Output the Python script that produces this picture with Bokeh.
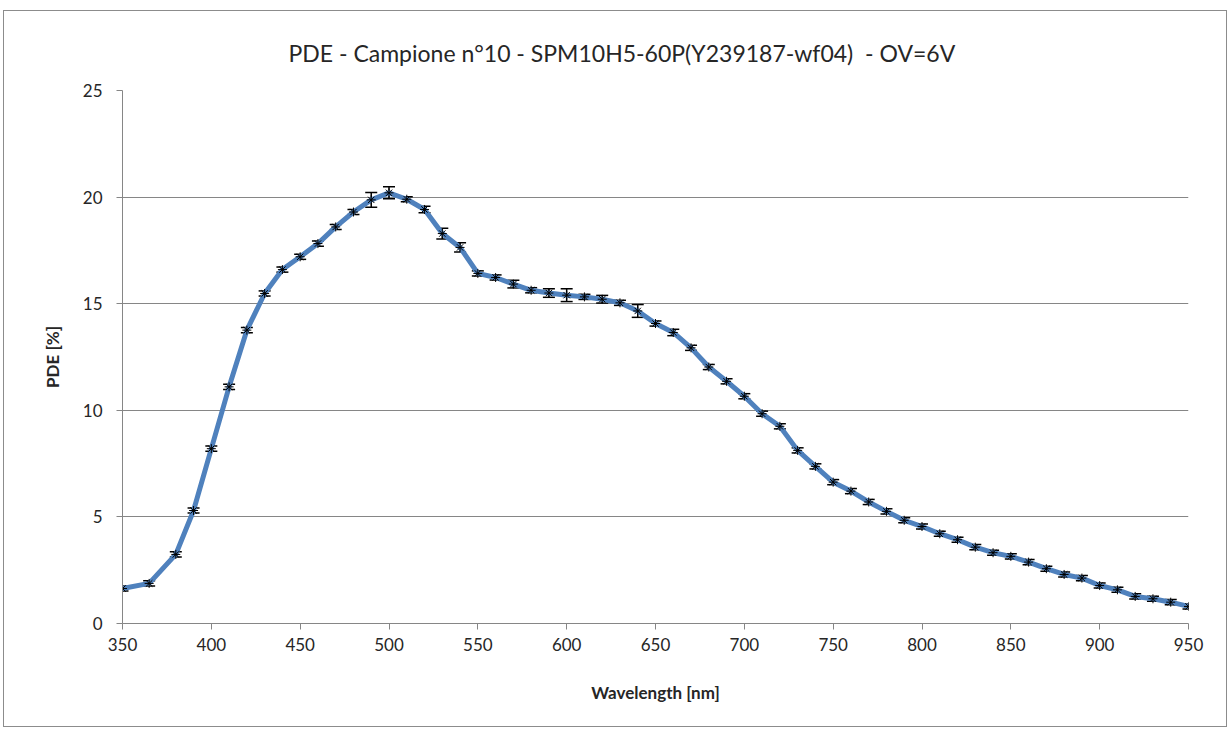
from bokeh.plotting import figure
from bokeh.models import Whisker, ColumnDataSource, FixedTicker, Range1d, Title
from bokeh.embed import file_html
from bokeh.resources import INLINE

wavelength = [350, 365, 380, 390, 400, 410, 420, 430, 440, 450, 460, 470, 480, 490,
              500, 510, 520, 530, 540, 550, 560, 570, 580, 590, 600, 610, 620, 630,
              640, 650, 660, 670, 680, 690, 700, 710, 720, 730, 740, 750, 760, 770,
              780, 790, 800, 810, 820, 830, 840, 850, 860, 870, 880, 890, 900, 910,
              920, 930, 940, 950]
pde = [1.64, 1.88, 3.24, 5.30, 8.20, 11.10, 13.76, 15.48, 16.60, 17.20, 17.82, 18.60,
       19.30, 19.87, 20.20, 19.90, 19.42, 18.29, 17.64, 16.42, 16.23, 15.92, 15.63,
       15.50, 15.40, 15.32, 15.21, 15.04, 14.66, 14.07, 13.65, 12.93, 12.03, 11.36,
       10.66, 9.84, 9.25, 8.12, 7.37, 6.63, 6.21, 5.70, 5.26, 4.84, 4.55, 4.21, 3.93,
       3.58, 3.32, 3.15, 2.88, 2.57, 2.30, 2.13, 1.78, 1.58, 1.27, 1.16, 1.00, 0.80]
pde_err = [0.12, 0.12, 0.12, 0.12, 0.12, 0.12, 0.12, 0.12, 0.12, 0.12, 0.12, 0.12,
           0.12, 0.35, 0.28, 0.12, 0.15, 0.25, 0.22, 0.12, 0.12, 0.18, 0.12,
           0.20, 0.30, 0.12, 0.18, 0.12, 0.30, 0.12, 0.15, 0.12, 0.12, 0.12,
           0.12, 0.12, 0.12, 0.12, 0.12, 0.12, 0.12, 0.12, 0.12, 0.12, 0.12, 0.12, 0.12,
           0.12, 0.12, 0.12, 0.12, 0.12, 0.12, 0.12, 0.12, 0.12, 0.12, 0.12, 0.12, 0.12]
x_ticks = [350, 400, 450, 500, 550, 600, 650, 700, 750, 800, 850, 900, 950]
y_ticks = [0, 5, 10, 15, 20, 25]

title_text = "PDE - Campione n\u00b010 - SPM10H5-60P(Y239187-wf04)\u00a0 - OV=6V"
FONT = "Lato"
GRID = "#868686"
TXT = "#262626"

src = ColumnDataSource(dict(
    x=wavelength, y=pde,
    upper=[v + e for v, e in zip(pde, pde_err)],
    lower=[v - e for v, e in zip(pde, pde_err)],
))

p = figure(width=1224, height=717, output_backend="svg", toolbar_location=None,
           x_range=Range1d(350, 950), y_range=Range1d(0, 25),
           min_border_left=118, min_border_right=40, min_border_top=79, min_border_bottom=105)
p.margin = (10, 0, 0, 3)
p.outline_line_color = None
p.background_fill_color = "white"
p.border_fill_color = "white"
p.styles = {"border": "1px solid #8c8c8c"}

t = Title(text=title_text, align="left", offset=166, text_font=FONT,
          text_font_size="23px", text_font_style="normal", text_color=TXT, standoff=48)
p.add_layout(t, "above")

p.line("x", "y", source=src, line_color="#4F81BD", line_width=5, line_join="round")
w = Whisker(source=src, base="x", upper="upper", lower="lower",
            line_color="black", line_width=1.5)
for head in (w.upper_head, w.lower_head):
    head.size = 12
    head.line_color = "black"
    head.line_width = 1.5
p.add_layout(w)
p.scatter("x", "y", source=src, marker="asterisk", size=9, line_color="black", line_width=1)

p.xaxis.ticker = FixedTicker(ticks=x_ticks)
p.yaxis.ticker = FixedTicker(ticks=y_ticks)
p.xgrid.grid_line_color = None
p.ygrid.grid_line_color = GRID
p.ygrid.grid_line_width = 1

for ax in (p.xaxis[0], p.yaxis[0]):
    ax.axis_line_color = GRID
    ax.major_tick_line_color = GRID
    ax.minor_tick_line_color = None
    ax.major_tick_out = 6
    ax.major_tick_in = 0
    ax.major_label_text_font = FONT
    ax.major_label_text_font_size = "17px"
    ax.major_label_text_color = TXT
    ax.axis_label_text_font = FONT
    ax.axis_label_text_font_size = "17px"
    ax.axis_label_text_font_style = "bold"
    ax.axis_label_text_color = TXT

p.xaxis.axis_label = "Wavelength [nm]"
p.yaxis.axis_label = "PDE [%]"
p.xaxis.major_label_standoff = 8
p.yaxis.major_label_standoff = 14
p.xaxis.axis_label_standoff = 28
p.yaxis.axis_label_standoff = 17

open("out.html", "w").write(file_html(p, INLINE))
